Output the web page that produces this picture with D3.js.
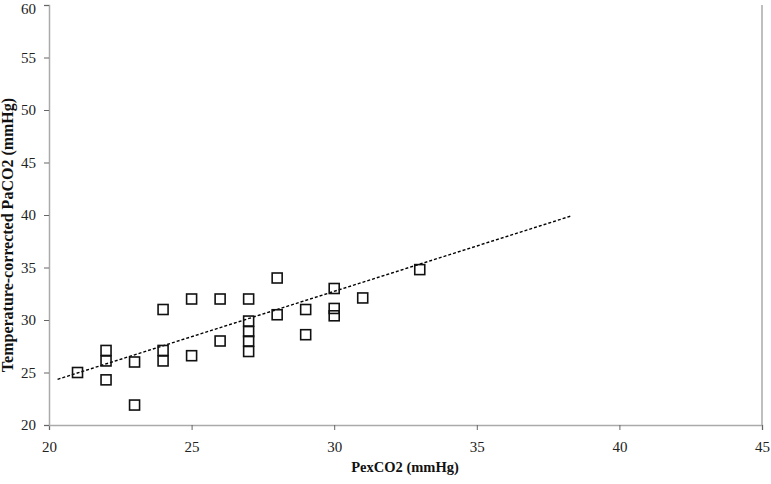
<!DOCTYPE html>
<html>
<head>
<meta charset="utf-8">
<script src="https://cdn.jsdelivr.net/npm/d3@7"></script>
<style>
  html, body { margin: 0; padding: 0; background: #fff; }
  svg { display: block; }
</style>
</head>
<body>
<svg id="chart" width="771" height="484"></svg>
<script>
// Data
const pexCO2 = [21, 22, 22, 22, 23, 23, 24, 24, 24, 25, 25, 26, 26, 27, 27, 27, 27, 27, 28, 28, 29, 29, 30, 30, 30, 31, 33];
const paCO2  = [25, 27.1, 26.1, 24.3, 26, 21.9, 31, 27.1, 26.1, 32, 26.6, 32, 28, 32, 29.9, 28.9, 28, 27, 34, 30.5, 31, 28.6, 33, 31.1, 30.4, 32.1, 34.8];
const trendX = [20.3, 38.3];
const trendY = [24.35, 39.9];
const xTicks = [20, 25, 30, 35, 40, 45];
const yTicks = [20, 25, 30, 35, 40, 45, 50, 55, 60];
const xLabel = "PexCO2 (mmHg)";
const yLabel = "Temperature-corrected PaCO2 (mmHg)";

const svg = d3.select("#chart");
const mLeft = 49, mRight = 762, mTop = 5, mBottom = 425;
const x = d3.scaleLinear().domain([20, 45]).range([mLeft, mRight]);
const y = d3.scaleLinear().domain([20, 60]).range([mBottom, mTop]);
const font = "'Liberation Serif', 'Times New Roman', serif";

// Right border
svg.append("line")
  .attr("x1", mRight).attr("x2", mRight).attr("y1", mTop).attr("y2", mBottom)
  .attr("stroke", "#aaa").attr("stroke-width", 1.5);

// X axis
const xAxis = svg.append("g").attr("transform", `translate(0,${mBottom})`)
  .call(d3.axisBottom(x).tickValues(xTicks).tickSize(5).tickPadding(11).tickFormat(d3.format("d")));
xAxis.select(".domain").attr("stroke", "#aaa").attr("stroke-width", 1.5);
xAxis.selectAll(".tick line").attr("stroke", "#666");
xAxis.selectAll(".tick text").attr("font-family", font).attr("font-size", 15).attr("fill", "#222");

// Y axis
const yAxis = svg.append("g").attr("transform", `translate(${mLeft},0)`)
  .call(d3.axisLeft(y).tickValues(yTicks).tickSize(5).tickPadding(8).tickFormat(d3.format("d")));
yAxis.select(".domain").attr("stroke", "#aaa").attr("stroke-width", 1.5);
yAxis.selectAll(".tick line").attr("stroke", "#666");
yAxis.selectAll(".tick text").attr("font-family", font).attr("font-size", 15).attr("fill", "#222")
  .attr("dy", d => d === 60 ? "0.55em" : "0.32em");

// Trend line
svg.append("line")
  .attr("x1", x(trendX[0])).attr("y1", y(trendY[0]))
  .attr("x2", x(trendX[1])).attr("y2", y(trendY[1]))
  .attr("stroke", "#000").attr("stroke-width", 1.4)
  .attr("stroke-dasharray", "3,2");

// Points (open squares)
const s = 10;
svg.append("g").selectAll("rect")
  .data(pexCO2.map((d, i) => ({ px: d, pa: paCO2[i] })))
  .join("rect")
  .attr("x", d => x(d.px) - s / 2)
  .attr("y", d => y(d.pa) - s / 2)
  .attr("width", s).attr("height", s)
  .attr("fill", "none")
  .attr("stroke", "#111").attr("stroke-width", 1.6);

// Axis titles
svg.append("text")
  .attr("x", 405).attr("y", 472)
  .attr("text-anchor", "middle")
  .attr("font-family", font).attr("font-weight", "bold").attr("font-size", 14.5)
  .attr("fill", "#111")
  .text(xLabel);

svg.append("text")
  .attr("transform", `translate(13,235) rotate(-90)`)
  .attr("text-anchor", "middle")
  .attr("font-family", font).attr("font-weight", "bold").attr("font-size", 16)
  .attr("fill", "#111")
  .text(yLabel);
</script>
</body>
</html>
